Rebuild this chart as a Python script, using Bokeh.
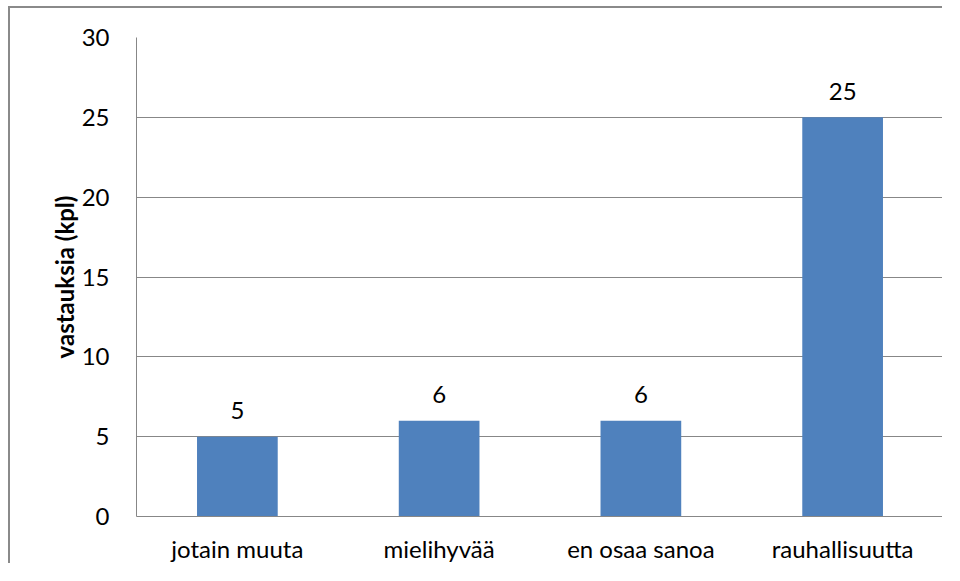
from bokeh.plotting import figure
from bokeh.models import ColumnDataSource, FactorRange, FixedTicker
from bokeh.embed import file_html
from bokeh.resources import INLINE
from bokeh.core.properties import value

categories = ["jotain muuta", "mielihyvää", "en osaa sanoa", "rauhallisuutta"]
counts = [5, 6, 6, 25]
y_ticks = [0, 5, 10, 15, 20, 25, 30]
y_title = "vastauksia (kpl)"

FONT = "Lato"
GRAY = "#878787"

src = ColumnDataSource(dict(cat=categories, val=counts, lab=[str(v) for v in counts]))

p = figure(width=934, height=557,
           x_range=FactorRange(factors=categories, range_padding=0),
           y_range=(0, 30),
           output_backend="svg", toolbar_location=None,
           min_border_left=126, min_border_top=29,
           min_border_right=1, min_border_bottom=47)
# outer chart border (right and bottom edges fall outside the picture)
p.styles = {"margin-left": "8px", "margin-top": "6px",
            "border-left": "2px solid #8a8a8a", "border-top": "2px solid #8a8a8a"}

p.outline_line_color = None
p.background_fill_color = "white"
p.border_fill_color = "white"

p.vbar(x="cat", top="val", width=0.4, bottom=0, source=src,
       fill_color="#4F81BD", line_color=None)

p.text(x="cat", y="val", text="lab", source=src,
       text_font=value(FONT), text_font_size="24px", text_color="black",
       text_align="center", text_baseline="middle", y_offset=-26)

p.xgrid.grid_line_color = None
p.ygrid.grid_line_color = GRAY
p.ygrid.grid_line_width = 1
p.yaxis.ticker = FixedTicker(ticks=y_ticks)

for ax in (p.xaxis[0], p.yaxis[0]):
    ax.axis_line_color = GRAY
    ax.axis_line_width = 1
    ax.major_tick_line_color = None
    ax.minor_tick_line_color = None
    ax.major_tick_in = 0
    ax.major_tick_out = 0
    ax.minor_tick_in = 0
    ax.minor_tick_out = 0
    ax.major_label_text_font = FONT
    ax.major_label_text_font_size = "24px"
    ax.major_label_text_color = "black"

p.xaxis.major_label_standoff = 17
p.yaxis.major_label_standoff = 27
p.yaxis.axis_label = y_title
p.yaxis.axis_label_text_font = FONT
p.yaxis.axis_label_text_font_size = "24px"
p.yaxis.axis_label_text_font_style = "bold"
p.yaxis.axis_label_text_color = "black"
p.yaxis.axis_label_standoff = 0

open("out.html", "w").write(file_html(p, INLINE))
